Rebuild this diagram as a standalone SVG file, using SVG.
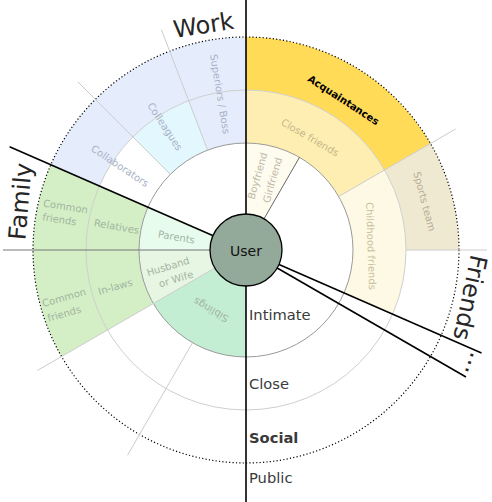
<svg xmlns="http://www.w3.org/2000/svg" width="492" height="502" viewBox="0 0 492 502">
<style>
text { font-family: "DejaVu Sans", "Liberation Sans", sans-serif; }
.lbl { font-size: 10px; text-anchor: middle; }
.work { fill: #a8b1c4; }
.fam { fill: #a3b3a0; }
.frc { fill: #c4b78c; }
.frs { fill: #b5ad96; }
.frh { fill: #c9bf9c; }
.frb { fill: #bdb9a6; }
.big { font-size: 24px; fill: #262626; text-anchor: middle; }
.lvl { font-size: 14.7px; fill: #3a3a3a; }
.ring1 { fill: none; stroke: #9a9a9a; stroke-width: 1; }
.ring2 { fill: none; stroke: #cfcfcf; stroke-width: 1; }
.ring3 { fill: none; stroke: #000; stroke-width: 1.2; stroke-dasharray: 1.2 2.2; }
.ray { stroke: #cccccc; stroke-width: 1; }
.div { stroke: #000; stroke-width: 1.6; fill: none; }
</style>

<g id="work">
  <g id="superiors">
    <path d="M169.67,51.15 A213,213 0 0 1 246,37 L246,143 A107,107 0 0 0 207.65,150.11 Z" fill="#e5edfd"/>
  </g>
  <g id="work-outer">
    <path d="M50.82,164.73 A213,213 0 0 1 169.67,51.15 L188.66,100.63 A160,160 0 0 0 99.38,185.94 Z" fill="#e5edfd"/>
  </g>
  <g id="colleagues">
    <path d="M132.86,136.86 A160,160 0 0 1 188.66,100.63 L207.65,150.11 A107,107 0 0 0 170.34,174.34 Z" fill="#e2f7fe"/>
  </g>
</g>

<g id="family">
  <g id="family-outer">
    <path d="M61.54,356.5 A213,213 0 0 1 50.82,164.73 L147.95,207.16 A107,107 0 0 0 153.33,303.5 Z" fill="#d4efc6"/>
  </g>
  <g id="parents">
    <path d="M139,250 A107,107 0 0 1 147.95,207.16 L213.01,235.59 A36,36 0 0 0 210,250 Z" fill="#e7fced"/>
  </g>
  <g id="husband">
    <path d="M153.33,303.5 A107,107 0 0 1 139,250 L210,250 A36,36 0 0 0 214.82,268 Z" fill="#e7f6e3"/>
  </g>
  <g id="siblings">
    <path d="M246,357 A107,107 0 0 1 153.33,303.5 L214.82,268 A36,36 0 0 0 246,286 Z" fill="#c4eed4"/>
  </g>
</g>

<g id="friends">
  <g id="boyfriend">
    <path d="M246,143 A107,107 0 0 1 299.5,157.33 L264,218.82 A36,36 0 0 0 246,214 Z" fill="#fefcef"/>
  </g>
  <g id="close-friends">
    <path d="M246,90 A160,160 0 0 1 384.56,170 L338.67,196.5 A107,107 0 0 0 246,143 Z" fill="#ffeeb1"/>
  </g>
  <g id="acquaintances">
    <path d="M246,37 A213,213 0 0 1 430.46,143.5 L384.56,170 A160,160 0 0 0 246,90 Z" fill="#ffdb57"/>
  </g>
  <g id="sports-team">
    <path d="M430.46,143.5 A213,213 0 0 1 459,250 L406,250 A160,160 0 0 0 384.56,170 Z" fill="#f0e9d1"/>
  </g>
  <g id="childhood">
    <path d="M384.56,170 A160,160 0 0 1 392.62,314.06 L344.05,292.84 A107,107 0 0 0 338.67,196.5 Z" fill="#fef9e4"/>
  </g>
</g>

<g id="rings">
  <circle class="ring2" cx="246" cy="250" r="160"/>
  <circle class="ring1" cx="246" cy="250" r="107"/>
  <circle class="ring3" cx="246" cy="250" r="213"/>
</g>

<g id="connectors">
  <line class="ray" x1="207.65" y1="150.11" x2="161.42" y2="29.67"/>
  <line class="ray" x1="170.34" y1="174.34" x2="77.71" y2="81.71"/>
  <line class="ray" x1="214.82" y1="268" x2="37.29" y2="370.5"/>
  <line class="ray" x1="192.5" y1="342.67" x2="127.5" y2="455.25"/>
  <line class="ray" x1="338.67" y1="196.5" x2="455.58" y2="129"/>
  <line class="ray" x1="406" y1="250" x2="487" y2="250"/>
  <line x1="3" y1="250" x2="246" y2="250" stroke="#777" stroke-width="1"/>
  <line x1="264" y1="218.82" x2="299.5" y2="157.33" stroke="#555" stroke-width="0.9"/>
  <line class="div" x1="246" y1="0" x2="246" y2="502"/>
  <line class="div" x1="9.58" y1="146.71" x2="481.5" y2="352.9"/>
  <line class="div" x1="246" y1="250" x2="466" y2="377"/>
</g>

<g id="user">
  <circle cx="246" cy="250" r="36" fill="#93a99a" stroke="#000" stroke-width="1.3"/>
  <text x="246" y="255.5" font-size="14" fill="#111" text-anchor="middle">User</text>
</g>

<g id="labels-work">
  <text class="big" transform="translate(204.8,33.3) rotate(-9)">Work</text>
  <text class="lbl work" transform="translate(220,94) rotate(80.5)" dy="0.35em">Superiors / Boss</text>
  <text class="lbl work" transform="translate(165,126.5) rotate(56.7)" dy="0.35em">Colleagues</text>
  <text class="lbl work" transform="translate(120,166) rotate(33.7)" dy="0.35em">Collaborators</text>
</g>

<g id="labels-family">
  <text class="big" transform="translate(28.5,202) rotate(-85)">Family</text>
  <text class="lbl fam" transform="translate(65.5,206.5) rotate(9)" dy="0.35em">Common</text>
  <text class="lbl fam" transform="translate(59.5,219.5) rotate(9)" dy="0.35em">friends</text>
  <text class="lbl fam" transform="translate(116.5,226.5) rotate(10)" dy="0.35em">Relatives</text>
  <text class="lbl fam" transform="translate(176.5,237) rotate(10)" dy="0.35em">Parents</text>
  <text class="lbl fam" transform="translate(168,266.5) rotate(-17)" dy="0.35em">Husband</text>
  <text class="lbl fam" transform="translate(176,279) rotate(-17)" dy="0.35em">or Wife</text>
  <text class="lbl fam" transform="translate(115.3,286.7) rotate(-16)" dy="0.35em">In-laws</text>
  <text class="lbl fam" transform="translate(64,297.5) rotate(-16)" dy="0.35em">Common</text>
  <text class="lbl fam" transform="translate(64.2,313.7) rotate(-16)" dy="0.35em">friends</text>
  <text class="lbl fam" transform="translate(211,310) rotate(-150)" dy="0.35em">Siblings</text>
</g>

<g id="labels-friends">
  <text class="big" transform="translate(462,296) rotate(102)">Friends</text>
  <text class="big" transform="translate(468,362) rotate(108)">...</text>
  <text class="lbl" font-weight="bold" fill="#000" transform="translate(343.5,100) rotate(33)" dy="0.35em">Acquaintances</text>
  <text class="lbl frc" transform="translate(310,137.5) rotate(30)" dy="0.35em">Close friends</text>
  <text class="lbl frs" transform="translate(424.5,201.5) rotate(75)" dy="0.35em">Sports team</text>
  <text class="lbl frh" transform="translate(371,246) rotate(88)" dy="0.35em">Childhood friends</text>
  <text class="lbl frb" transform="translate(257.5,175.8) rotate(-74)" dy="0.35em">Boyfriend</text>
  <text class="lbl frb" transform="translate(272.5,180) rotate(-74)" dy="0.35em">Girlfriend</text>
</g>

<g id="levels">
  <text class="lvl" x="249" y="320">Intimate</text>
  <text class="lvl" x="249" y="389">Close</text>
  <text class="lvl" x="249" y="443" font-weight="bold" fill="#000">Social</text>
  <text class="lvl" x="249" y="483">Public</text>
</g>
</svg>
